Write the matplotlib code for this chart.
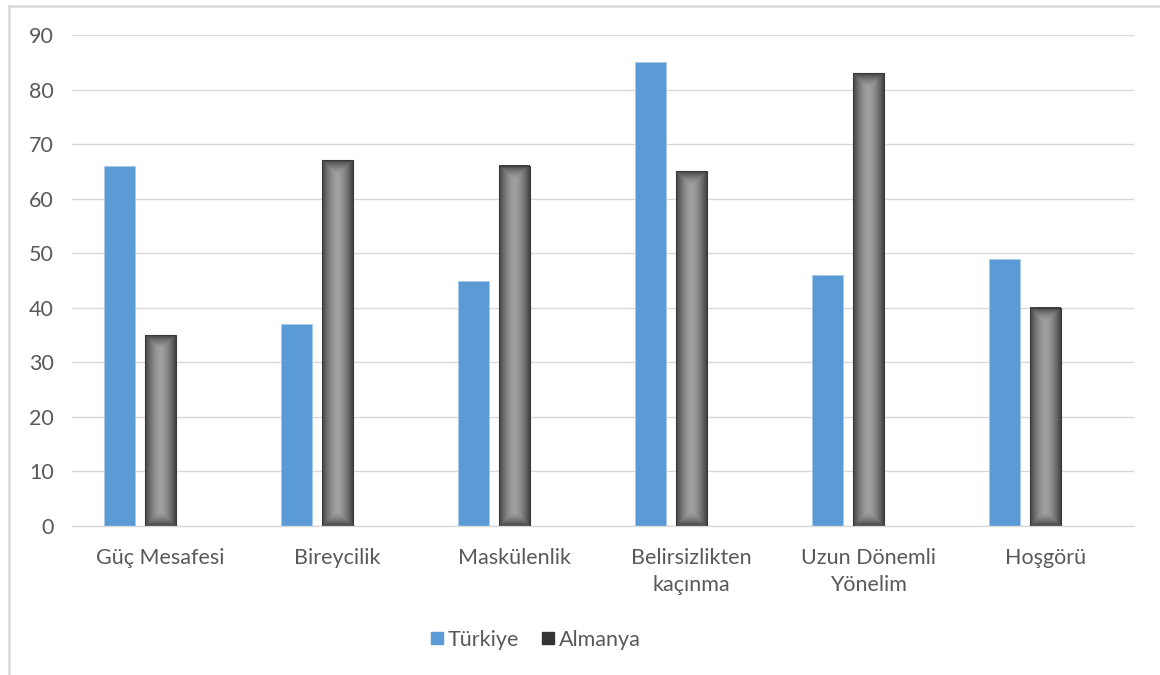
import numpy as np
import matplotlib
matplotlib.use("Agg")
import matplotlib.pyplot as plt
from matplotlib.lines import Line2D
from matplotlib.patches import Rectangle

categories = ["Güç Mesafesi", "Bireycilik", "Maskülenlik", "Belirsizlikten\nkaçınma",
              "Uzun Dönemli\nYönelim", "Hoşgörü"]
turkiye = [66, 37, 45, 85, 46, 49]
almanya = [35, 67, 66, 65, 83, 40]
yticks = [0, 10, 20, 30, 40, 50, 60, 70, 80, 90]

TEXT = "#595959"
GRID = "#d9d9d9"
BLUE = "#5b9bd5"

plt.rcParams['font.family'] = ['Lato', 'DejaVu Sans']

fig = plt.figure(figsize=(11.6, 6.75), dpi=100)
W, H = 1160, 675
ax = fig.add_axes([72 / W, 149 / H, (1134 - 72) / W, (526 - 35) / H])

# chart frame (only left and top edges are visible in the crop)
fig.lines.append(Line2D([8.5 / W, 8.5 / W], [0, 1 - 6 / H], transform=fig.transFigure,
                        color=GRID, linewidth=1.8))
fig.lines.append(Line2D([8.5 / W, 1], [1 - 6 / H, 1 - 6 / H], transform=fig.transFigure,
                        color=GRID, linewidth=1.8))

x = np.arange(len(categories))
w = 31 / 177
step = 41 / 177  # three slots per group, the third one is empty

ax.bar(x - step, turkiye, width=w, color=BLUE, edgecolor="#a9c9e8", linewidth=0.6, zorder=2)

# gray bars with rectangular path gradient
px_per_unit = (526 - 35) / 90
bar_px = 30
for xi, v in zip(x, almanya):
    hp = max(int(round(v * px_per_unit)), 2)
    xx = np.arange(bar_px) + 0.5
    yy = np.arange(hp) + 0.5
    dx = np.minimum(xx, bar_px - xx)
    dy = np.minimum(yy, hp - yy)
    d = np.minimum(dx[None, :], dy[:, None])
    t = np.clip(d / 15.0, 0, 1)
    t = 1 - (1 - t) ** 1.6
    val = 0.25 + (0.63 - 0.25) * t
    img = np.dstack([val, val, val])
    ax.imshow(img, extent=[xi - w / 2, xi + w / 2, 0, v], aspect='auto',
              origin='lower', interpolation='bilinear', zorder=2)
    ax.add_patch(Rectangle((xi - w / 2, 0), w, v, fill=False, edgecolor="#3a3a3a",
                           linewidth=0.8, zorder=3))

ax.set_xlim(-0.5, len(categories) - 0.5)
ax.set_ylim(0, 90)
ax.set_yticks(yticks)
ax.set_xticks(x)
ax.set_xticklabels(categories, linespacing=1.45)
ax.grid(axis='y', color=GRID, linewidth=1, zorder=0)
ax.set_axisbelow(True)
for s in ["top", "right", "left"]:
    ax.spines[s].set_visible(False)
ax.spines["bottom"].set_color(GRID)
ax.spines["bottom"].set_linewidth(1)
ax.tick_params(axis='both', length=0, labelsize=15.5, colors=TEXT)
ax.tick_params(axis='y', pad=13)
ax.tick_params(axis='x', pad=15.5)

handles = [Line2D([], [], marker='s', linestyle='none', markersize=9, color=BLUE),
           Line2D([], [], marker='s', linestyle='none', markersize=9, color="#333333")]
fig.legend(handles, ["Türkiye", "Almanya"], loc='center', ncol=2,
           bbox_to_anchor=(535 / W, 1 - 640 / H), frameon=False, fontsize=15.5,
           labelcolor=TEXT, handlelength=0.7, handletextpad=0.15, columnspacing=1.0)

fig.savefig("out.png", dpi=100)
